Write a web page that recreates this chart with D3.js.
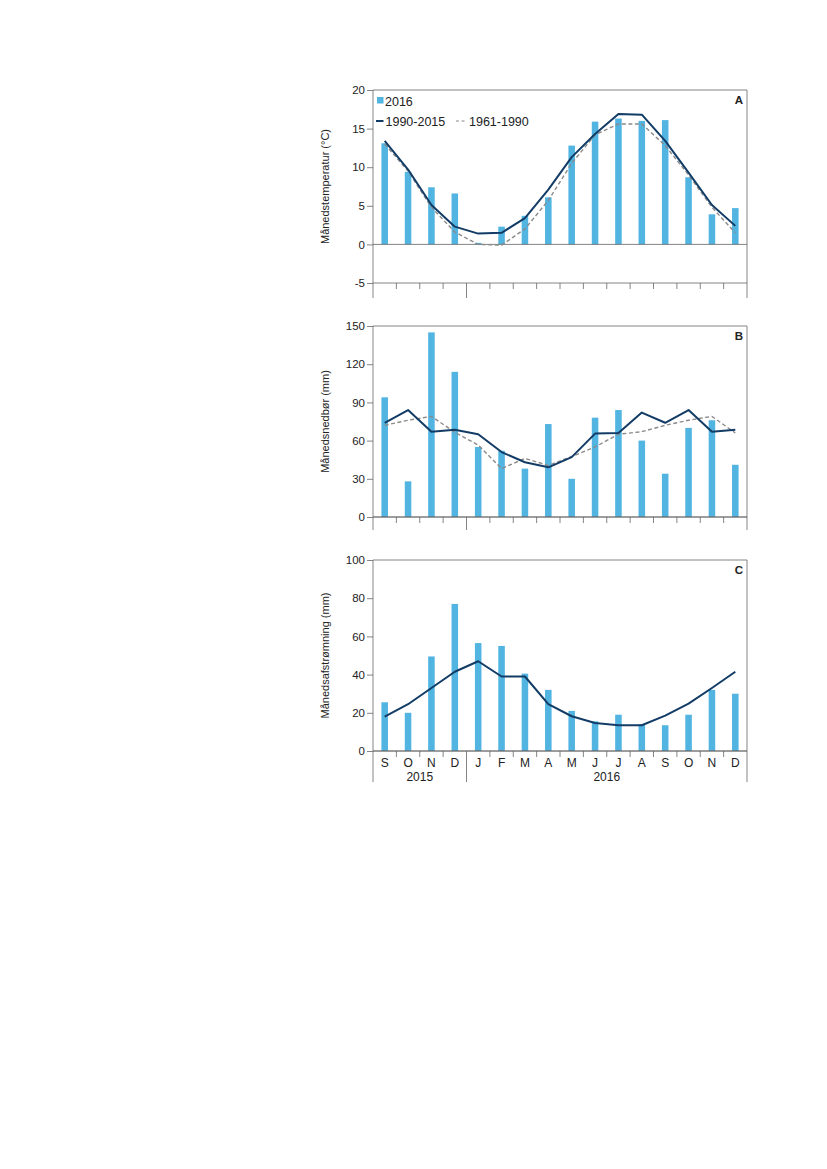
<!DOCTYPE html>
<html>
<head>
<meta charset="utf-8">
<script src="https://cdn.jsdelivr.net/npm/d3@7"></script>
<style>
	body { margin: 0; background: #fff; }
	text { font-family: "Liberation Sans", Arial, sans-serif; fill: #222; }
</style>
</head>
<body>
<svg id="chart" width="827" height="1169"></svg>
<script>
const MONTHS = ["S", "O", "N", "D", "J", "F", "M", "A", "M", "J", "J", "A", "S", "O", "N", "D"];
const YEAR_GROUPS = [{ label: "2015", from: 0, to: 4 }, { label: "2016", from: 4, to: 16 }];

// A: temperature (°C)
const tempBars = [13.1, 9.4, 7.4, 6.6, 0.2, 2.3, 3.7, 6.1, 12.8, 15.9, 16.3, 16.0, 16.1, 8.7, 3.9, 4.7];
const tempNorm90 = [13.4, 9.7, 5.1, 2.3, 1.4, 1.5, 3.4, 7.1, 11.3, 14.3, 16.9, 16.8, 13.4, 9.3, 5.1, 2.4];
const tempNorm61 = [13.0, 9.5, 4.8, 1.6, 0.0, -0.1, 2.0, 5.7, 10.5, 14.2, 15.6, 15.6, 12.8, 9.0, 4.8, 1.5];

// B: precipitation (mm)
const precBars = [94, 28, 145, 114, 55, 52, 38, 73, 30, 78, 84, 60, 34, 70, 76, 41];
const precNorm90 = [74, 84, 67, 68.5, 65, 51, 43, 39, 47, 65.5, 66, 82, 74, 84, 67, 68.5];
const precNorm61 = [72, 76, 79, 66.5, 56.5, 38, 46, 40.5, 47.5, 55, 65, 67, 72, 76, 79, 66];

// C: runoff (mm)
const runoffBars = [25.5, 20, 49.5, 77, 56.5, 55, 40.5, 32, 21, 15.5, 19, 14, 13.5, 19, 32, 30];
const runoffNorm90 = [18, 24.5, 33, 41.5, 47, 39, 39, 24.5, 18.2, 14.7, 13.5, 13.5, 18.5, 24.8, 33, 41.5];

const BAR_COLOR = "#52b4e0";
const LINE_COLOR = "#123c66";
const DASH_COLOR = "#8a8a8a";
const AXIS_COLOR = "#666";

const svg = d3.select("#chart");
const LEFT = 373, RIGHT = 747;

const xScale = d3.scaleBand()
	.domain(d3.range(MONTHS.length))
	.range([LEFT, RIGHT])
	.paddingInner(0.72)
	.paddingOuter(0.36);
const step = (RIGHT - LEFT) / MONTHS.length;
const cx = i => LEFT + step * (i + 0.5);

const PANELS = [
	{ letter: "A", top: 90, bottom: 283, domain: [-5, 20], ticks: [-5, 0, 5, 10, 15, 20],
		title: "Månedstemperatur (°C)", bars: tempBars, solid: tempNorm90, dashed: tempNorm61,
		tickLen: 6, dividerLen: 15, legend: true },
	{ letter: "B", top: 326, bottom: 517, domain: [0, 150], ticks: [0, 30, 60, 90, 120, 150],
		title: "Månedsnedbør (mm)", bars: precBars, solid: precNorm90, dashed: precNorm61,
		tickLen: 6, dividerLen: 13 },
	{ letter: "C", top: 560, bottom: 751, domain: [0, 100], ticks: [0, 20, 40, 60, 80, 100],
		title: "Månedsafstrømning (mm)", bars: runoffBars, solid: runoffNorm90, dashed: null,
		tickLen: 6, dividerLen: 31, months: true },
];

for (const p of PANELS) drawPanel(p);

function drawPanel(p) {
	const g = svg.append("g");
	const y = d3.scaleLinear().domain(p.domain).range([p.bottom, p.top]);

	// bars, from zero
	g.append("g")
		.selectAll("rect")
		.data(p.bars)
		.join("rect")
		.attr("x", (d, i) => xScale(i))
		.attr("width", xScale.bandwidth())
		.attr("y", d => y(Math.max(0, d)))
		.attr("height", d => Math.abs(y(d) - y(0)))
		.attr("fill", BAR_COLOR);

	// frame: top and right
	g.append("path")
		.attr("d", `M${LEFT},${p.top}H${RIGHT}V${p.bottom + p.dividerLen}`)
		.attr("fill", "none")
		.attr("stroke", AXIS_COLOR)
		.attr("stroke-width", 0.8);

	// zero line (panel A) / baseline
	g.append("line")
		.attr("x1", LEFT).attr("x2", RIGHT)
		.attr("y1", y(0)).attr("y2", y(0))
		.attr("stroke", AXIS_COLOR).attr("stroke-width", 0.8);
	g.append("line")
		.attr("x1", LEFT).attr("x2", RIGHT)
		.attr("y1", p.bottom).attr("y2", p.bottom)
		.attr("stroke", AXIS_COLOR).attr("stroke-width", 0.8);

	// lines
	const line = d3.line()
		.x((d, i) => cx(i))
		.y(d => y(d));
	if (p.dashed) {
		g.append("path")
			.datum(p.dashed)
			.attr("fill", "none")
			.attr("stroke", DASH_COLOR)
			.attr("stroke-width", 1.4)
			.attr("stroke-dasharray", "4,2.5")
			.attr("d", line);
	}
	g.append("path")
		.datum(p.solid)
		.attr("fill", "none")
		.attr("stroke", LINE_COLOR)
		.attr("stroke-width", 2)
		.attr("stroke-linejoin", "round")
		.attr("d", line);

	// y axis
	const yAxis = g.append("g")
		.attr("transform", `translate(${LEFT},0)`)
		.call(d3.axisLeft(y)
			.tickValues(p.ticks)
			.tickFormat(d => String(d))
			.tickSize(6).tickPadding(2).tickSizeOuter(0));
	yAxis.select(".domain").remove();
	yAxis.selectAll("line").attr("stroke", AXIS_COLOR).attr("stroke-width", 0.8);
	yAxis.selectAll("text")
		.attr("font-size", 11.5)
		.attr("font-family", "Liberation Sans, Arial, sans-serif")
		.attr("fill", "#222");

	// left axis line, continues below plot
	g.append("line")
		.attr("x1", LEFT).attr("x2", LEFT)
		.attr("y1", p.top).attr("y2", p.bottom + p.dividerLen)
		.attr("stroke", AXIS_COLOR).attr("stroke-width", 0.8);

	// month ticks between categories
	g.append("g")
		.selectAll("line")
		.data(d3.range(1, MONTHS.length))
		.join("line")
		.attr("x1", i => LEFT + step * i)
		.attr("x2", i => LEFT + step * i)
		.attr("y1", p.bottom)
		.attr("y2", i => p.bottom + (i === 4 ? p.dividerLen : p.tickLen))
		.attr("stroke", AXIS_COLOR)
		.attr("stroke-width", 0.8);

	if (p.months) {
		g.append("g")
			.selectAll("text")
			.data(MONTHS)
			.join("text")
			.attr("x", (d, i) => cx(i))
			.attr("y", p.bottom + 16)
			.attr("text-anchor", "middle")
			.attr("font-size", 12)
			.text(d => d);
		g.append("g")
			.selectAll("text")
			.data(YEAR_GROUPS)
			.join("text")
			.attr("x", d => LEFT + step * (d.from + d.to) / 2)
			.attr("y", p.bottom + 30)
			.attr("text-anchor", "middle")
			.attr("font-size", 12)
			.text(d => d.label);
	}

	// y title
	g.append("text")
		.attr("transform", `translate(329,${(p.top + p.bottom) / 2}) rotate(-90)`)
		.attr("text-anchor", "middle")
		.attr("font-size", 11)
		.text(p.title);

	// panel letter
	g.append("text")
		.attr("x", RIGHT - 4)
		.attr("y", p.top + 14)
		.attr("text-anchor", "end")
		.attr("font-size", 11.5)
		.attr("font-weight", "bold")
		.text(p.letter);

	if (p.legend) drawLegend(g);
}

function drawLegend(g) {
	g.append("rect")
		.attr("x", 377).attr("y", 97)
		.attr("width", 6.5).attr("height", 6.5)
		.attr("fill", BAR_COLOR);
	g.append("text")
		.attr("x", 385).attr("y", 105.5)
		.attr("font-size", 12.5)
		.text("2016");

	g.append("line")
		.attr("x1", 376).attr("x2", 383.5)
		.attr("y1", 121).attr("y2", 121)
		.attr("stroke", LINE_COLOR).attr("stroke-width", 2);
	g.append("text")
		.attr("x", 385.5).attr("y", 125.5)
		.attr("font-size", 12.5)
		.text("1990-2015");

	g.append("line")
		.attr("x1", 456).attr("x2", 467)
		.attr("y1", 121).attr("y2", 121)
		.attr("stroke", DASH_COLOR).attr("stroke-width", 1.2)
		.attr("stroke-dasharray", "3,2.5");
	g.append("text")
		.attr("x", 469).attr("y", 125.5)
		.attr("font-size", 12.5)
		.text("1961-1990");
}
</script>
</body>
</html>
